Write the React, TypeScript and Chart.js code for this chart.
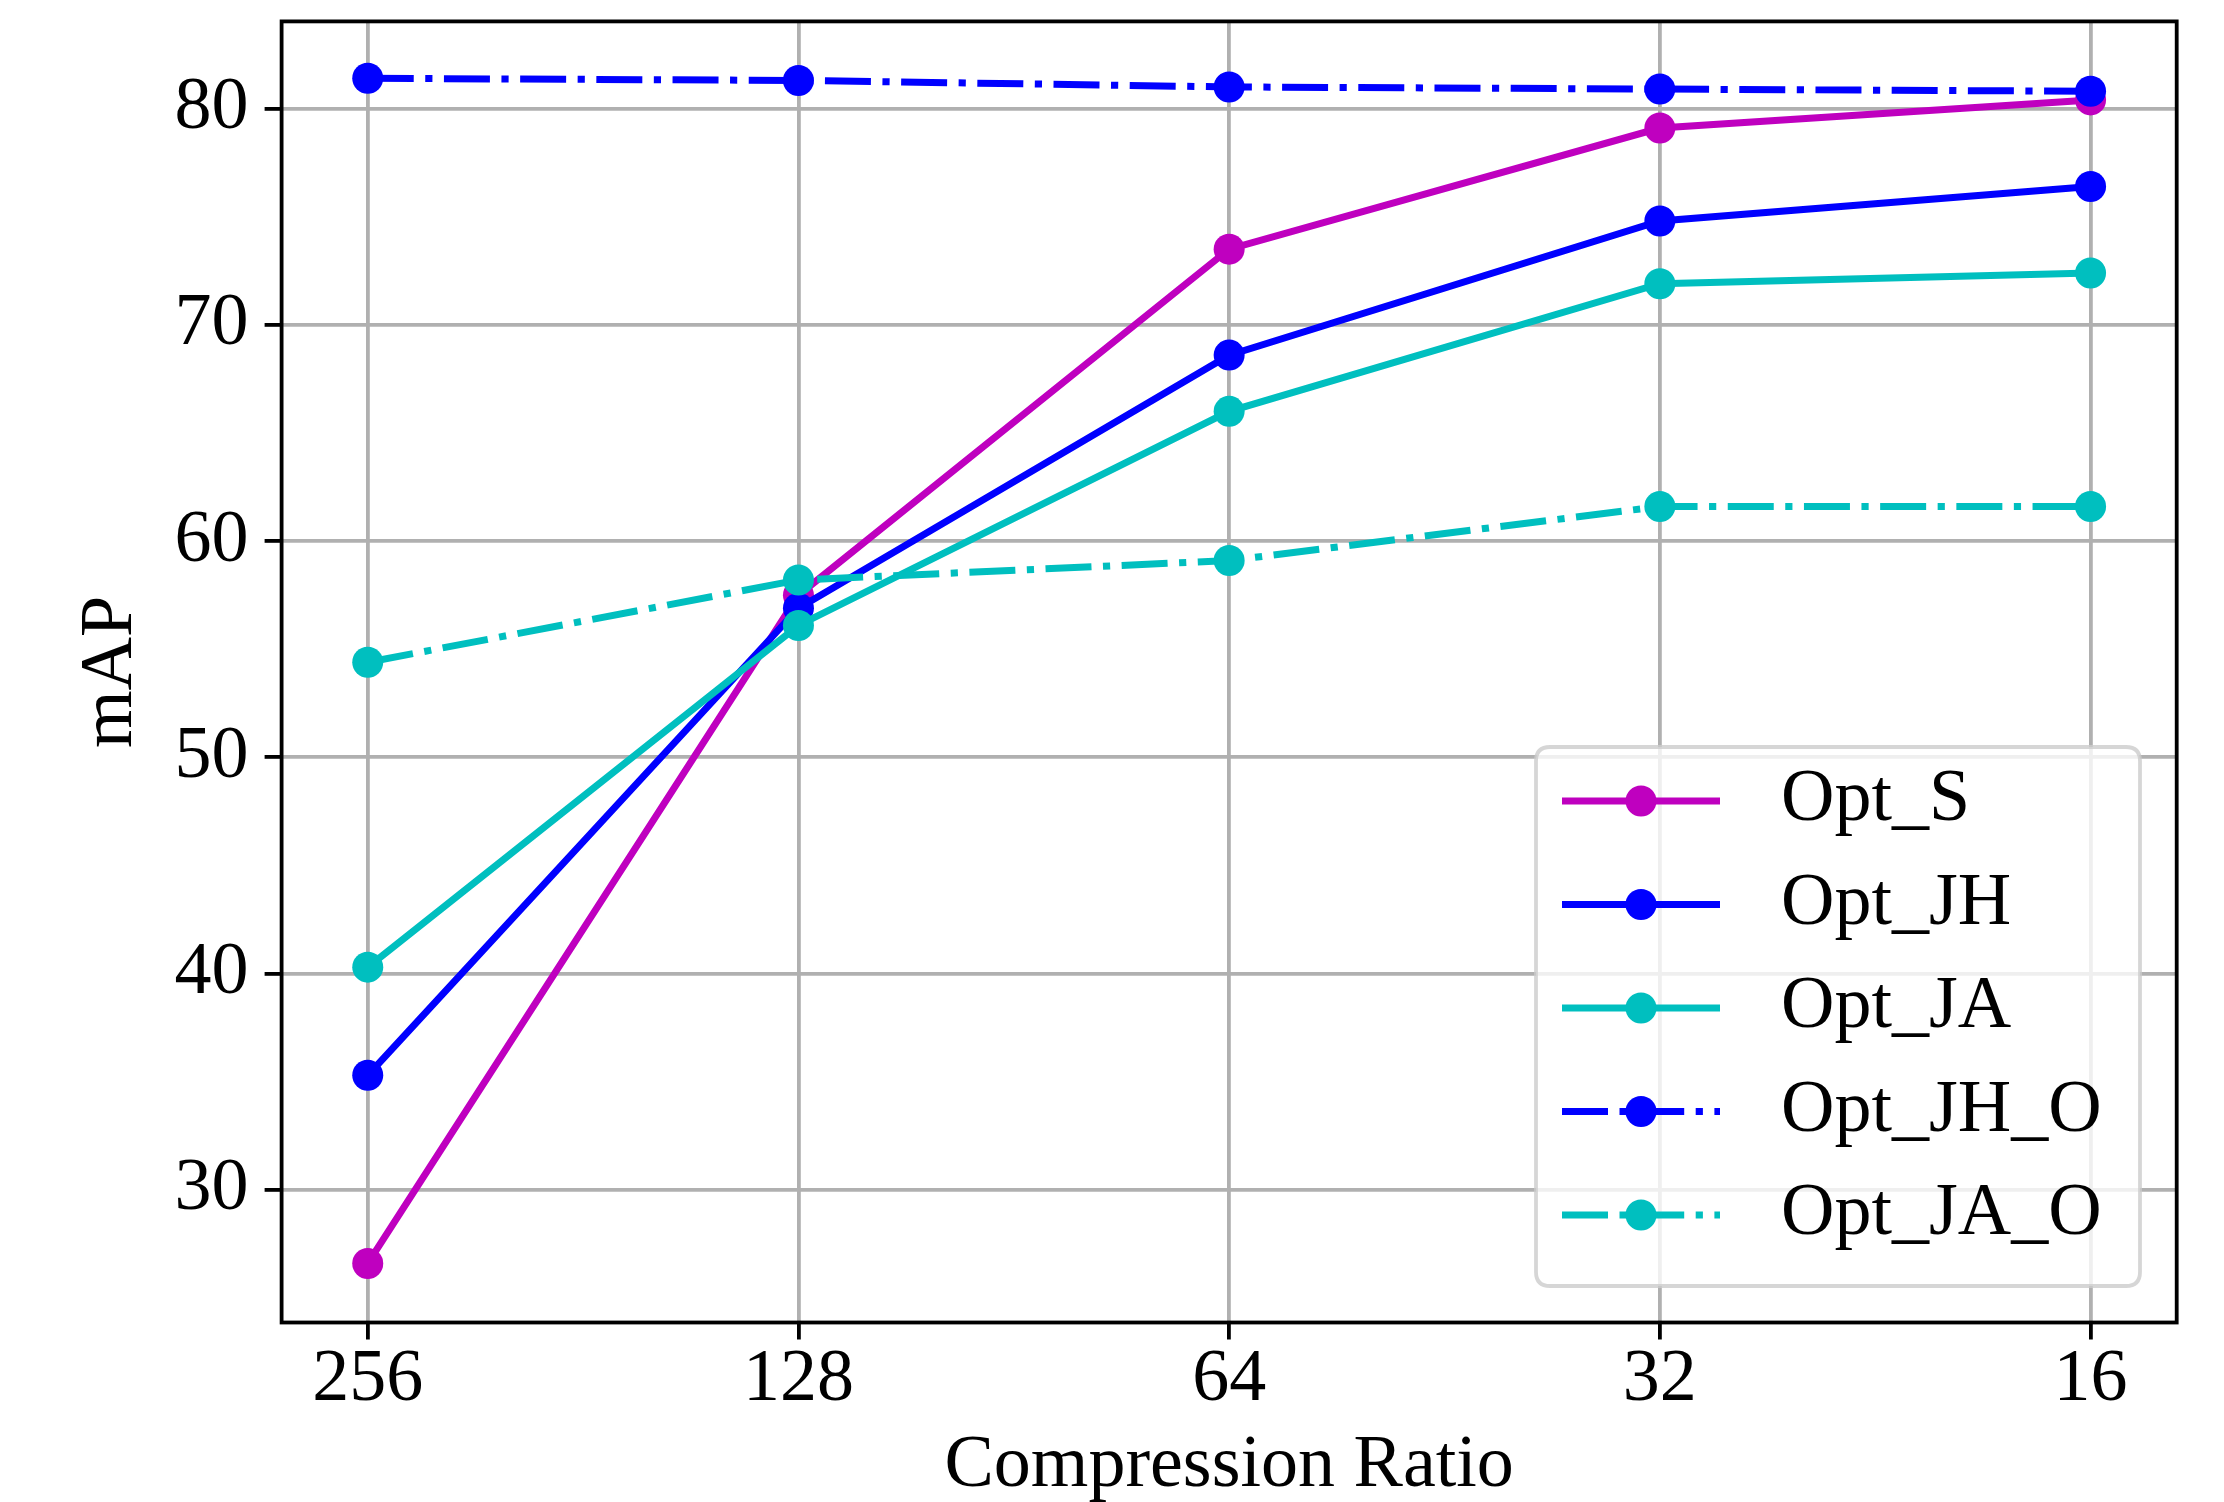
import React, { useEffect, useRef } from "react";
import { Chart, registerables } from "chart.js";

Chart.register(...registerables);

// ---- data ----
const categories = ["256", "128", "64", "32", "16"];
const optS = [26.6, 57.5, 73.5, 79.1, 80.4];
const optJH = [35.3, 56.9, 68.6, 74.8, 76.4];
const optJA = [40.3, 56.1, 66.0, 71.9, 72.4];
const optJHO = [81.4, 81.3, 81.0, 80.9, 80.8];
const optJAO = [54.4, 58.2, 59.1, 61.6, 61.6];
const seriesLabels = ["Opt_S", "Opt_JH", "Opt_JA", "Opt_JH_O", "Opt_JA_O"];
const yTicks = [30, 40, 50, 60, 70, 80];
const xTitle = "Compression Ratio";
const yTitle = "mAP";

const MAGENTA = "#bf00bf";
const BLUE = "#0000ff";
const CYAN = "#00bfbf";
const FONT = "'Liberation Serif', 'Times New Roman', serif";
const LW = 7;
const DASHDOT = [46, 11.5, 7.2, 11.5];
const PR = 15.5;

const W = 2224;
const H = 1502;
const AREA = { left: 281.6, top: 21.4, right: 2176.7, bottom: 1322.5 };

export default function App() {
  const ref = useRef<HTMLCanvasElement | null>(null);

  useEffect(() => {
    const canvas = ref.current;
    if (!canvas) return;

    const mk = (label: string, vals: number[], color: string, dash: number[]) => ({
      label,
      data: vals.map((v, i) => ({ x: i, y: v })),
      borderColor: color,
      backgroundColor: color,
      borderWidth: LW,
      borderDash: dash,
      pointRadius: PR,
      pointBorderWidth: 0,
      pointBackgroundColor: color,
      pointBorderColor: color,
      tension: 0,
      fill: false,
    });

    const datasets = [
      mk(seriesLabels[0], optS, MAGENTA, []),
      mk(seriesLabels[1], optJH, BLUE, []),
      mk(seriesLabels[2], optJA, CYAN, []),
      mk(seriesLabels[3], optJHO, BLUE, DASHDOT),
      mk(seriesLabels[4], optJAO, CYAN, DASHDOT),
    ].map((d, i, arr) => ({ ...d, order: arr.length - i }));

    const framePlugin = {
      id: "frameAndLegend",
      afterDraw(chart: any) {
        const { ctx, chartArea } = chart;
        ctx.save();
        // frame (spines)
        ctx.strokeStyle = "#000000";
        ctx.lineWidth = 3.8;
        ctx.setLineDash([]);
        ctx.strokeRect(
          chartArea.left,
          chartArea.top,
          chartArea.right - chartArea.left,
          chartArea.bottom - chartArea.top
        );

        // legend
        const bx = 1536, by = 747, bw = 604, bh = 539, r = 14;
        ctx.beginPath();
        ctx.moveTo(bx + r, by);
        ctx.lineTo(bx + bw - r, by);
        ctx.quadraticCurveTo(bx + bw, by, bx + bw, by + r);
        ctx.lineTo(bx + bw, by + bh - r);
        ctx.quadraticCurveTo(bx + bw, by + bh, bx + bw - r, by + bh);
        ctx.lineTo(bx + r, by + bh);
        ctx.quadraticCurveTo(bx, by + bh, bx, by + bh - r);
        ctx.lineTo(bx, by + r);
        ctx.quadraticCurveTo(bx, by, bx + r, by);
        ctx.closePath();
        ctx.fillStyle = "rgba(255,255,255,0.8)";
        ctx.fill();
        ctx.strokeStyle = "rgba(204,204,204,0.8)";
        ctx.lineWidth = 3.8;
        ctx.stroke();

        const rowY0 = 801;
        const rowStep = 103.5;
        const x0 = 1562, x1 = 1720, xm = 1641, tx = 1781;
        chart.data.datasets.forEach((ds: any, i: number) => {
          const y = rowY0 + i * rowStep;
          ctx.beginPath();
          ctx.setLineDash(ds.borderDash || []);
          ctx.lineDashOffset = 0;
          ctx.lineCap = "butt";
          ctx.strokeStyle = ds.borderColor;
          ctx.lineWidth = LW;
          ctx.moveTo(x0, y);
          ctx.lineTo(x1, y);
          ctx.stroke();
          ctx.setLineDash([]);
          ctx.beginPath();
          ctx.fillStyle = ds.pointBackgroundColor;
          ctx.arc(xm, y, PR, 0, Math.PI * 2);
          ctx.fill();
          ctx.fillStyle = "#000000";
          ctx.font = `74px ${FONT}`;
          ctx.textAlign = "left";
          ctx.textBaseline = "middle";
          ctx.fillText(ds.label, tx, y);
        });
        ctx.restore();
      },
    };

    const chart = new Chart(canvas, {
      type: "line",
      data: { datasets: datasets as any },
      options: {
        animation: false,
        responsive: false,
        devicePixelRatio: 1,
        layout: {
          padding: { left: 0, top: AREA.top, right: W - AREA.right, bottom: 0 },
        },
        plugins: {
          legend: { display: false },
          tooltip: { enabled: false },
          title: { display: false },
        },
        scales: {
          x: {
            type: "linear",
            min: -0.2,
            max: 4.2,
            afterBuildTicks: (axis: any) => {
              axis.ticks = categories.map((_, i) => ({ value: i }));
            },
            afterFit: (axis: any) => {
              axis.height = H - AREA.bottom;
              axis.paddingLeft = 0;
              axis.paddingRight = 0;
            },
            ticks: {
              autoSkip: false,
              maxRotation: 0,
              padding: 4.5,
              color: "#000000",
              font: { family: FONT, size: 74, lineHeight: 1 },
              callback: (v: any) => categories[Math.round(Number(v))] ?? "",
            },
            grid: {
              color: "#b0b0b0",
              lineWidth: 3.8,
              drawTicks: true,
              tickLength: 17,
              tickColor: "#000000",
              tickWidth: 3.8,
            },
            border: { display: false },
            title: {
              display: true,
              text: xTitle,
              color: "#000000",
              font: { family: FONT, size: 74, lineHeight: 0.8 },
              padding: { top: 0, bottom: 5.4 },
            },
          },
          y: {
            type: "linear",
            min: 23.87,
            max: 84.03,
            afterBuildTicks: (axis: any) => {
              axis.ticks = yTicks.map((v) => ({ value: v }));
            },
            afterFit: (axis: any) => {
              axis.width = AREA.left;
              axis.paddingTop = 0;
              axis.paddingBottom = 0;
            },
            ticks: {
              padding: 16,
              color: "#000000",
              font: { family: FONT, size: 74, lineHeight: 1 },
              callback: (v: any) => String(v),
            },
            grid: {
              color: "#b0b0b0",
              lineWidth: 3.8,
              drawTicks: true,
              tickLength: 17,
              tickColor: "#000000",
              tickWidth: 3.8,
            },
            border: { display: false },
            title: {
              display: true,
              text: yTitle,
              color: "#000000",
              font: { family: FONT, size: 74, lineHeight: 0.8 },
              padding: { top: 82.4, bottom: 0 },
            },
          },
        },
      },
      plugins: [framePlugin],
    });

    return () => {
      chart.destroy();
    };
  }, []);

  return (
    <div
      style={{
        position: "absolute",
        left: 0,
        top: 0,
        width: W,
        height: H,
        background: "#ffffff",
      }}
    >
      <canvas ref={ref} width={W} height={H} style={{ width: W, height: H, display: "block" }} />
    </div>
  );
}
